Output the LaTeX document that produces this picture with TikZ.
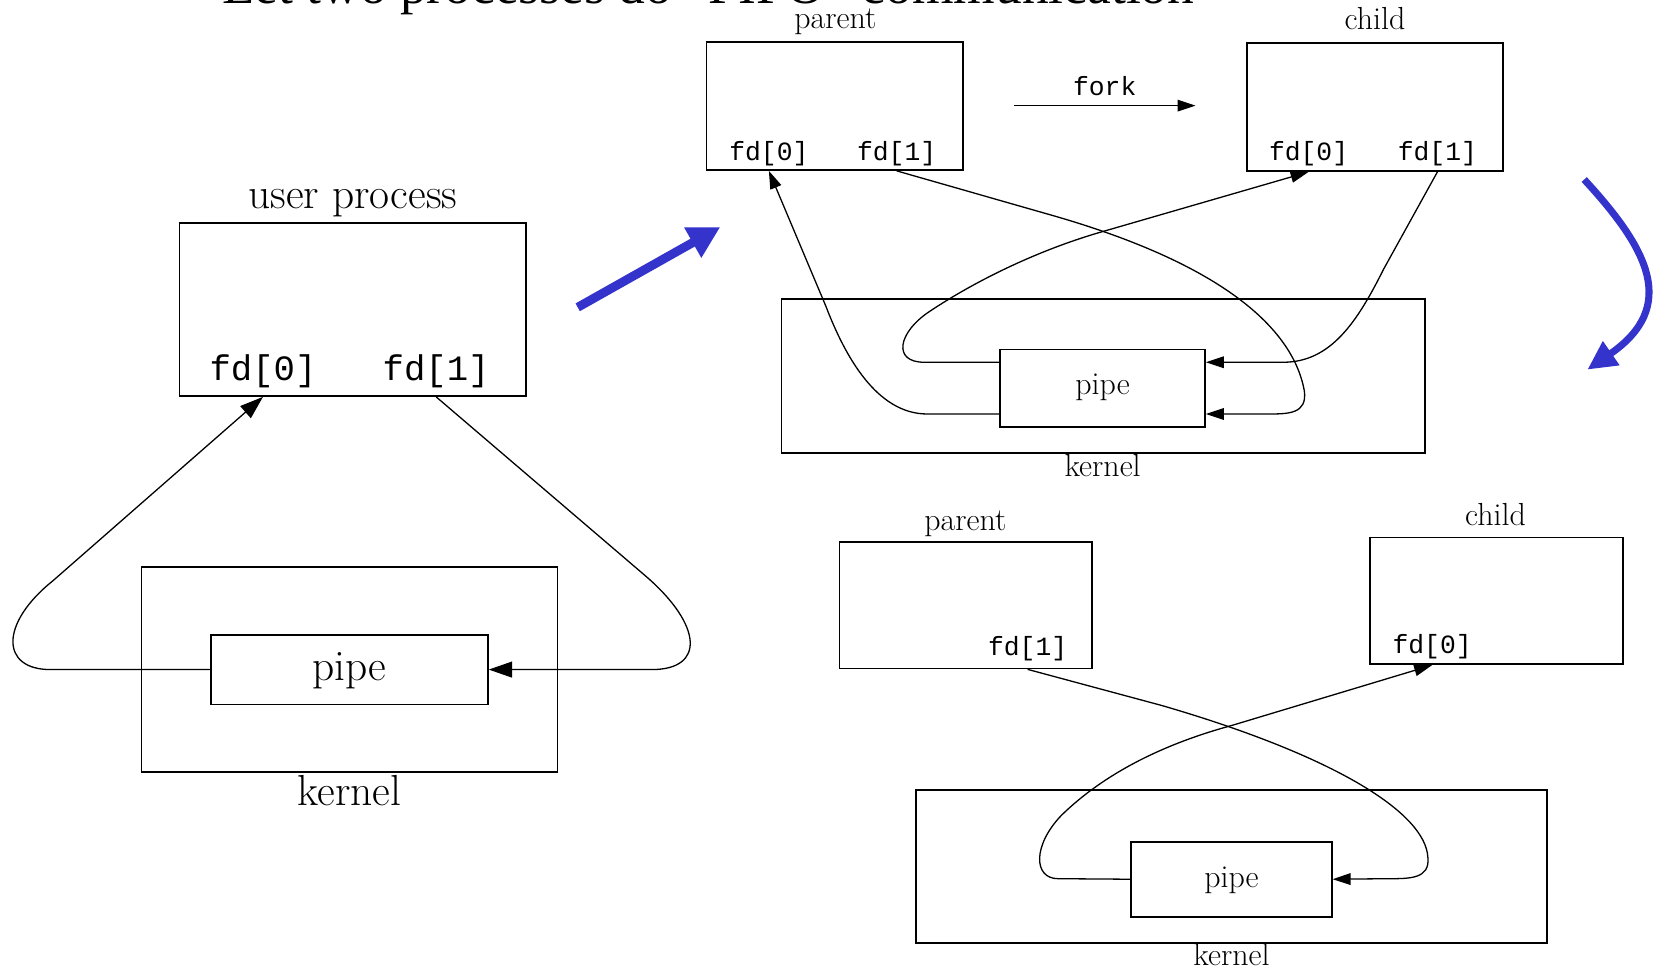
\documentclass[tikz,border=0pt]{standalone}
\usepackage{fontspec}
\newfontfamily\monofont{Liberation Mono}
\newfontfamily\titlefont{Liberation Serif}
\usetikzlibrary{arrows.meta,fit,calc}
\definecolor{arrowblue}{RGB}{52,52,204}
\begin{document}
\begin{tikzpicture}[x=0.02cm,y=-0.02cm,
  box/.style={draw, line width=0.9pt, inner sep=0pt},
  bigl/.style={font=\fontsize{23.4}{26}\selectfont, inner sep=0pt},
  smalll/.style={font=\fontsize{17.2}{20}\selectfont, inner sep=0pt},
  bigfd/.style={font=\monofont\fontsize{19.2}{22}\selectfont, inner sep=0pt},
  smallfd/.style={font=\monofont\fontsize{14.2}{16}\selectfont, inner sep=0pt},
  conn/.style={line width=0.7pt},
  bigtip/.style={conn, -{Triangle[length=0.44cm,width=0.3cm]}},
  smalltip/.style={conn, -{Triangle[length=0.34cm,width=0.22cm]}},
  bluearrow/.style={line width=4.8pt, arrowblue, -{Triangle[length=0.6cm,width=0.62cm]}},
  bluearrowb/.style={line width=3.8pt, arrowblue, -{Triangle[length=0.55cm,width=0.52cm]}}]
\useasboundingbox (0,0) rectangle (1568,918);
\fill[white] (0,0) rectangle (1568,918);
\begin{scope}
\clip (0,0) rectangle (1568,918);
\node[anchor=base west, inner sep=0pt, font=\titlefont\fontsize{28.8}{30}\selectfont] (title) at (210,3) {Let two processes do “FIFO” communication};
\end{scope}
% ---------------- left diagram ----------------
\node[box, fit={(170,211) (498,375)}] (upL) {};
\node[bigl, anchor=base] (upLlbl) at (334,197) {user process};
\node[bigfd, anchor=base] (fd0L) at (249,360) {fd[0]};
\node[bigfd, anchor=base] (fd1L) at (413,360) {fd[1]};
\node[box, fit={(134,537) (528,731)}] (kerL) {};
\node[bigl, anchor=base] (kerLlbl) at (331,763) {kernel};
\node[box, fit={(200,601) (462,667)}] (pipeL) {};
\node[bigl, anchor=base] (pipeLlbl) at (331,644) {pipe};
\draw[bigtip] (pipeL.west) -- (48,634) .. controls (0,634) and (0,590) .. (50,550) -- (fd0L |- upL.south);
\draw[bigtip] (fd1L |- upL.south) -- (612,546) .. controls (665,592) and (668,634) .. (617,634) -- (pipeL.east);
% ---------------- top right diagram ----------------
\node[box, fit={(669,40) (912,161)}] (parT) {};
\node[smalll, anchor=base] (parTlbl) at (791,27) {parent};
\node[smallfd, anchor=base] (pfd0T) at (728,152) {fd[0]};
\node[smallfd, anchor=base] (pfd1T) at (849,152) {fd[1]};
\node[box, fit={(1181,41) (1423,162)}] (chT) {};
\node[smalll, anchor=base] (chTlbl) at (1302,28) {child};
\node[smallfd, anchor=base] (cfd0T) at (1239,152) {fd[0]};
\node[smallfd, anchor=base] (cfd1T) at (1361,152) {fd[1]};
\node[smallfd, anchor=base] (fork) at (1046,90) {fork};
\coordinate (forkS) at (960,100);
\coordinate (forkE) at (1132,100);
\draw[smalltip] (forkS) -- (forkE);
\node[box, fit={(740,283) (1349,429)}] (kerT) {};
\node[smalll, anchor=base] (kerTlbl) at (1044,451) {kernel};
\node[box, fit={(947,331) (1141,404)}] (pipeT) {};
\node[smalll, anchor=base] (pipeTlbl) at (1044,374) {pipe};
\draw[smalltip] ($(pipeT.west)+(0,24.5)$) -- (878,392) .. controls (830,392) and (800,337) .. (782,290) -- (pfd0T |- parT.south);
\draw[smalltip] (pfd1T |- parT.south) -- (1000,205) .. controls (1165,253) and (1225,315) .. (1235,370) .. controls (1238,392) and (1220,392) .. (1200,392) -- ($(pipeT.east)+(0,24.5)$);
\draw[smalltip] ($(pipeT.west)+(0,-24.5)$) -- (875,343) .. controls (845,343) and (850,315) .. (880,295) .. controls (925,265) and (985,236) .. (1045,219) -- (cfd0T |- chT.south);
\draw[smalltip] (cfd1T |- chT.south) -- (1310,255) .. controls (1285,305) and (1260,343) .. (1215,343) -- ($(pipeT.east)+(0,-24.5)$);
% ---------------- bottom right diagram ----------------
\node[box, fit={(795,513) (1034,633)}] (parB) {};
\node[smalll, anchor=base] (parBlbl) at (914,502) {parent};
\node[smallfd, anchor=base] (pfd1B) at (973,621) {fd[1]};
\node[box, fit={(1297,509) (1537,629)}] (chB) {};
\node[smalll, anchor=base] (chBlbl) at (1416,498) {child};
\node[smallfd, anchor=base] (cfd0B) at (1356,619) {fd[0]};
\node[box, fit={(867,748) (1465,893)}] (kerB) {};
\node[smalll, anchor=base] (kerBlbl) at (1166,914) {kernel};
\node[box, fit={(1071,797) (1261,868)}] (pipeB) {};
\node[smalll, anchor=base] (pipeBlbl) at (1166,840) {pipe};
\draw[smalltip] (pfd1B |- parB.south) -- (1100,668) .. controls (1265,716) and (1350,770) .. (1352,812) .. controls (1354,832) and (1335,832) .. (1315,832) -- (pipeB.east);
\draw[smalltip] (pipeB.west) -- (1002,832) .. controls (978,832) and (978,800) .. (1005,772) .. controls (1045,733) and (1100,705) .. (1166,687) -- (cfd0B |- chB.south);
% ---------------- blue arrows ----------------
\coordinate (b1s) at (547,291);
\coordinate (b1e) at (682,215);
\draw[bluearrow] (b1s) -- (b1e);
\coordinate (b2s) at (1500,170);
\coordinate (b2e) at (1503,350);
\draw[bluearrowb] (b2s) .. controls (1560,235) and (1590,290) .. (b2e);
\end{tikzpicture}
\end{document}
